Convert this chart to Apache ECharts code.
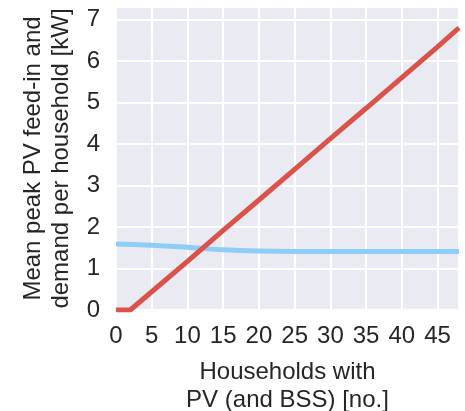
<!DOCTYPE html>
<html>
<head>
<meta charset="utf-8">
<script src="https://cdn.jsdelivr.net/npm/echarts@6/dist/echarts.min.js"></script>
<style>
  html, body { margin: 0; padding: 0; background: #fff; }
  #myChart { width: 465px; height: 411px; }
</style>
</head>
<body>
<div id="myChart"></div>
<script>
// households with PV (x axis)
var households = [0, 2, 5, 10, 15, 20, 25, 30, 35, 40, 45, 48];
// mean peak PV feed-in per household [kW]
var feedIn = [0, 0, 0.44, 1.17, 1.92, 2.65, 3.39, 4.13, 4.86, 5.6, 6.34, 6.8];
// mean peak demand per household [kW]
var demand = [1.59, 1.58, 1.56, 1.51, 1.45, 1.42, 1.41, 1.41, 1.41, 1.41, 1.41, 1.41];

var xTicks = ['0', '5', '10', '15', '20', '25', '30', '35', '40', '45'];

function pairs(xs, ys) {
  var out = [];
  for (var i = 0; i < xs.length; i++) {
    out.push([xs[i], ys[i]]);
  }
  return out;
}

var font = 'Liberation Sans, Arial, sans-serif';
var textColor = '#262626';

var option = {
  animation: false,
  grid: {
    left: 116,
    right: 6,
    top: 7,
    bottom: 101,
    outerBoundsMode: 'none',
    containLabel: false,
    show: true,
    backgroundColor: '#eaeaf2',
    borderWidth: 0
  },
  xAxis: {
    type: 'value',
    min: 0,
    max: 48,
    interval: 5,
    name: 'Households with\nPV (and BSS) [no.]',
    nameLocation: 'middle',
    nameGap: 48,
    nameTextStyle: { fontFamily: font, fontSize: 24, color: textColor, lineHeight: 28 },
    axisLine: { show: false },
    axisTick: { show: false },
    axisLabel: {
      fontFamily: font, fontSize: 24, color: textColor, margin: 14,
      showMaxLabel: false,
      formatter: function (v) { return xTicks.indexOf(String(v)) >= 0 ? String(v) : ''; }
    },
    splitLine: { lineStyle: { color: '#ffffff', width: 2 } }
  },
  yAxis: {
    type: 'value',
    min: 0,
    max: 7.3,
    interval: 1,
    name: 'Mean peak PV feed-in and\ndemand per household [kW]',
    nameLocation: 'middle',
    nameGap: 41,
    nameTextStyle: { fontFamily: font, fontSize: 24, color: textColor, lineHeight: 28 },
    axisLine: { show: false },
    axisTick: { show: false },
    axisLabel: {
      fontFamily: font, fontSize: 24, color: textColor, margin: 16,
      showMaxLabel: false
    },
    splitLine: { lineStyle: { color: '#ffffff', width: 2 } }
  },
  series: [
    {
      name: 'demand',
      type: 'line',
      data: pairs(households, demand),
      showSymbol: false,
      smooth: 0.3,
      lineStyle: { color: '#8ecdf7', width: 5 },
      z: 2
    },
    {
      name: 'PV feed-in',
      type: 'line',
      data: pairs(households, feedIn),
      showSymbol: false,
      lineStyle: { color: '#d9534b', width: 5 },
      z: 3
    }
  ]
};

var myChart = echarts.init(document.getElementById('myChart'));
myChart.setOption(option);
</script>
</body>
</html>
